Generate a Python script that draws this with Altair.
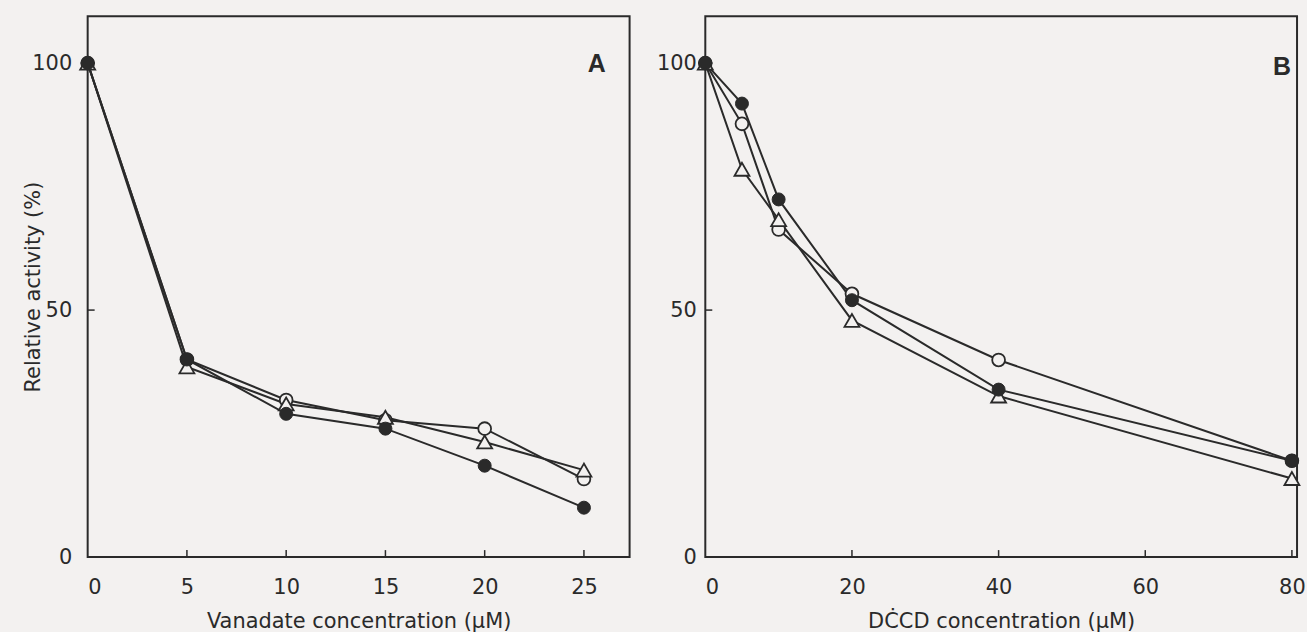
import altair as alt
import pandas as pd

# ---- data ----
vanadate_x = [0, 5, 10, 15, 20, 25]
vanadate_filled = [100, 40, 29, 26, 18.5, 10]
vanadate_open = [100, 40, 31.8, 27.7, 26, 15.8]
vanadate_triangle = [100, 38.5, 31, 28.3, 23.3, 17.6]

dccd_x = [0, 5, 10, 20, 40, 80]
dccd_filled = [100, 91.8, 72.4, 52, 33.9, 19.5]
dccd_open = [100, 87.7, 66.3, 53.3, 39.9, 19.5]
dccd_triangle = [100, 78.5, 68.3, 47.9, 32.6, 15.9]

y_ticks = [0, 50, 100]
vanadate_ticks = [0, 5, 10, 15, 20, 25]
dccd_ticks = [0, 20, 40, 60, 80]

INK = "#2a2a2a"
BG = "#f3f1f0"
FONT = "DejaVu Sans"


def long_table(xs, filled, open_, tri):
    rows = []
    for name, ys in (("open", open_), ("triangle", tri), ("filled", filled)):
        for x, y in zip(xs, ys):
            rows.append({"x": x, "y": y, "series": name})
    return pd.DataFrame(rows)


def panel(df, xticks, xdomain, xtitle, ytitle, letter, width, height,
          ylabelpad, letter_dx, letter_y):
    xs = alt.Scale(domain=xdomain, nice=False, zero=False)
    ys = alt.Scale(domain=[0, 109.5], nice=False, zero=False)
    yaxis_kwargs = dict(values=y_ticks, title=ytitle, labelPadding=ylabelpad,
                        tickSize=0, domain=False, grid=False)
    if ytitle:
        yaxis_kwargs.update(titleX=-54, titleBaseline="middle")
    xaxis = alt.Axis(values=xticks, title=xtitle, labelPadding=20, tickSize=0,
                     domain=False, grid=False, titlePadding=13)
    base = alt.Chart(df)
    lines = base.mark_line(color=INK, strokeWidth=2).encode(
        x=alt.X("x:Q", scale=xs, axis=xaxis),
        y=alt.Y("y:Q", scale=ys, axis=alt.Axis(**yaxis_kwargs)),
        detail="series:N",
    )
    pt_open = base.transform_filter(alt.datum.series == "open").mark_point(
        shape="circle", filled=True, fill=BG, stroke=INK, strokeWidth=1.8,
        size=165, opacity=1
    ).encode(x=alt.X("x:Q", scale=xs), y=alt.Y("y:Q", scale=ys))
    pt_tri = base.transform_filter(alt.datum.series == "triangle").mark_point(
        shape="triangle-up", filled=True, fill=BG, stroke=INK, strokeWidth=1.8,
        size=225, opacity=1
    ).encode(x=alt.X("x:Q", scale=xs), y=alt.Y("y:Q", scale=ys))
    pt_fill = base.transform_filter(alt.datum.series == "filled").mark_point(
        shape="circle", filled=True, fill=INK, stroke=INK, strokeWidth=1,
        size=170, opacity=1
    ).encode(x=alt.X("x:Q", scale=xs), y=alt.Y("y:Q", scale=ys))

    xt = alt.Chart(pd.DataFrame({"t": xticks[1:]})).mark_rule(
        color=INK, strokeWidth=1.5
    ).encode(x=alt.X("t:Q", scale=xs), y=alt.value(height), y2=alt.value(height - 7))
    yt = alt.Chart(pd.DataFrame({"t": y_ticks[1:]})).mark_rule(
        color=INK, strokeWidth=1.5
    ).encode(y=alt.Y("t:Q", scale=ys), x=alt.value(0), x2=alt.value(7))

    lab = alt.Chart(pd.DataFrame({"label": [letter]})).mark_text(
        font="Liberation Sans", fontSize=25, fontWeight="bold", color=INK
    ).encode(text="label:N", x=alt.value(width - letter_dx), y=alt.value(letter_y))

    return alt.layer(lines, xt, yt, pt_open, pt_tri, pt_fill, lab).properties(
        width=width, height=height
    )


df_a = long_table(vanadate_x, vanadate_filled, vanadate_open, vanadate_triangle)
df_b = long_table(dccd_x, dccd_filled, dccd_open, dccd_triangle)

panel_a = panel(df_a, vanadate_ticks, [0, 27.3], "Vanadate concentration (\u00b5M)",
                "Relative activity (%)", "A", 544, 543, 16, 33, 48)
panel_b = panel(df_b, dccd_ticks, [0, 80.7], "D\u010aCD concentration (\u00b5M)",
                "", "B", 594, 543, 9, 15, 51)

chart = alt.hconcat(panel_a, panel_b, spacing=76, bounds="flush").properties(
    padding={"left": 22, "top": 14, "right": 0, "bottom": 0},
    background=BG,
).configure_view(
    stroke=INK, strokeWidth=2
).configure_axis(
    labelFont=FONT, labelFontSize=21, labelColor=INK,
    titleFont=FONT, titleFontSize=21, titleFontWeight="normal", titleColor=INK,
)

chart.save("out.html", embed_options={"renderer": "svg", "actions": False})
